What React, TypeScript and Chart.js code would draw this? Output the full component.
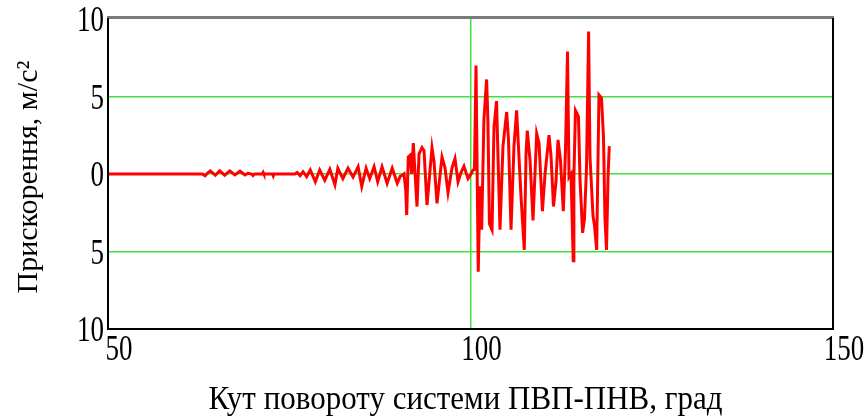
import React, { useEffect, useRef } from 'react';
import { Chart, registerables } from 'chart.js';

Chart.register(...registerables);

// Angle of rotation of the system (deg)
const ANGLE: number[] = [
  50, 63.0, 63.4, 63.7, 64.1, 64.8, 65.4, 66.1, 66.8, 67.5, 68.2, 68.9, 69.3, 69.8, 70.0, 70.2,
  71.3, 71.4, 71.5, 72.7, 72.8, 72.9, 75.8,
  76.1, 76.5, 76.9, 77.4, 77.9, 78.6, 79.2, 79.9, 80.6, 81.3, 81.7, 82.4, 83.1, 83.8, 84.5, 85.0,
  85.6, 86.1, 86.7, 87.2, 87.8, 88.5, 89.2, 89.9, 90.3, 90.7,
  90.83, 91.06, 91.2, 91.42, 91.66, 91.89, 92.11, 92.62, 92.9, 93.31, 93.59, 94.0, 94.69, 94.97,
  95.38, 96.07, 96.48, 96.9, 97.45, 97.86, 98.28, 98.69, 99.1, 99.66, 100.07, 100.34, 100.55,
  100.76, 101.07, 101.3, 101.54, 101.85, 102.22, 102.4, 102.61, 102.97, 103.24, 103.59, 103.79,
  104.07, 104.48, 104.99, 105.24, 105.59, 106.0, 106.36, 106.61, 106.97, 107.42, 107.66, 107.83,
  108.21, 108.62, 109.13, 109.45, 109.92, 110.28, 110.83, 111.1, 111.45, 111.79, 112.07, 112.41,
  112.8, 113.1, 113.38, 113.59, 113.86, 114.17, 114.26, 114.48, 114.89, 115.1, 115.46, 115.72,
  116.0, 116.29, 116.48, 116.9, 117.1, 117.4, 117.72, 118.07, 118.34, 118.55, 118.76, 118.97, 119.14,
];

// Acceleration (m/s^2)
const ACCEL: number[] = [
  0, 0, -0.12, 0.05, 0.2, -0.08, 0.2, -0.08, 0.2, -0.06, 0.18, -0.06, 0.05, 0, -0.1, 0,
  0, 0.1, 0, 0, -0.12, 0, 0,
  0.1, -0.1, 0.15, -0.17, 0.26, -0.5, 0.26, -0.4, 0.3, -0.7, 0.37, -0.3, 0.37, -0.2, 0.47, -0.8,
  0.37, -0.3, 0.47, -0.5, 0.47, -0.6, 0.37, -0.6, -0.15, -0.05,
  0, -1.0, -2.65, 1.1, 1.2, 0, 2.0, -2.1, 1.3, 1.7, 1.5, -2.0, 1.7, 0.8,
  -1.9, 1.1, 0.4, -1.2, 0.4, 1.0, -0.5, 0.1, 0.5, -0.3, 0, 0.25, 0.3,
  7.0, -6.3, -0.8, -3.6, 3.5, 6.1, 3.5, -3.2, -3.6, 3.0, 4.7, 1.2,
  -3.6, 1.8, 4.0, 2.2, -3.6, 1.8, 4.1, 1.8, -1.5, -4.9, 1.3, 2.8,
  0.9, -3.0, 2.6, 2.0, -2.4, 0, 2.5, 1.2, -2.1, -0.5, 2.2, 0.9,
  -2.4, 1.5, 7.9, -0.2, 0, -5.6, -0.2, 4.1, 3.7, -0.3, -3.8, -2.9,
  0.4, 9.2, 1.1, -2.7, -3.3, -4.9, 5.1, 4.9, 2.4, -2.9, -4.9, -0.2, 1.8,
];

const X_TICKS = [50, 100, 150];
const X_TICK_LABELS = ['50', '100', '150'];
const Y_TICKS = [10, 5, 0, -5, -10];
const Y_TICK_LABELS = ['10', '5', '0', '5', '10'];
const X_TITLE = 'Кут повороту системи ПВП-ПНВ, град';
const Y_TITLE = 'Прискорення, м/с²';

const SERIF = '"Liberation Serif", "Times New Roman", serif';
const GRID_GREEN = '#3fe03f';

function stretchedText(ctx: CanvasRenderingContext2D, text: string, x: number, y: number, sy: number) {
  ctx.save();
  ctx.translate(x, y);
  ctx.scale(1, sy);
  ctx.fillText(text, 0, 0);
  ctx.restore();
}

const framePlugin = {
  id: 'mathcadFrame',
  afterDraw(chart: any) {
    const { ctx, chartArea: a } = chart;
    const xs = chart.scales.x;
    const ys = chart.scales.y;
    ctx.save();
    ctx.strokeStyle = '#7a7a7a';
    ctx.lineWidth = 3;
    ctx.beginPath();
    ctx.moveTo(a.left - 1, a.top - 1.5);
    ctx.lineTo(a.right + 1, a.top - 1.5);
    ctx.stroke();
    ctx.strokeStyle = '#000';
    ctx.lineWidth = 2;
    ctx.beginPath();
    ctx.moveTo(a.left, a.top - 1);
    ctx.lineTo(a.left, a.bottom);
    ctx.lineTo(a.right, a.bottom);
    ctx.lineTo(a.right, a.top - 1);
    ctx.stroke();

    ctx.fillStyle = '#000';
    ctx.textBaseline = 'middle';

    // tick labels
    ctx.font = `27px ${SERIF}`;
    ctx.textAlign = 'right';
    Y_TICKS.forEach((v, i) => {
      stretchedText(ctx, Y_TICK_LABELS[i], a.left - 4, ys.getPixelForValue(v) + 3, 1.3);
    });
    ctx.textAlign = 'center';
    X_TICKS.forEach((v, i) => {
      stretchedText(ctx, X_TICK_LABELS[i], xs.getPixelForValue(v) + 11, a.bottom + 22, 1.3);
    });

    // axis titles
    ctx.font = `31px ${SERIF}`;
    stretchedText(ctx, X_TITLE, (a.left + a.right) / 2 - 5, 400, 1.12);
    ctx.font = `30px ${SERIF}`;
    ctx.translate(29, 177);
    ctx.rotate(-Math.PI / 2);
    ctx.fillText(Y_TITLE, 0, 0);
    ctx.restore();
  },
};

export default function App() {
  const ref = useRef<HTMLCanvasElement | null>(null);
  useEffect(() => {
    if (!ref.current) return;
    const chart = new Chart(ref.current, {
      type: 'line',
      data: {
        datasets: [
          {
            data: ANGLE.map((x, i) => ({ x, y: ACCEL[i] })),
            borderColor: '#ff0000',
            borderWidth: 3,
            pointRadius: 0,
            tension: 0,
            fill: false,
          },
        ],
      },
      options: {
        animation: false,
        responsive: false,
        layout: { padding: { left: 0, right: 31, top: 19, bottom: 0 } },
        plugins: { legend: { display: false }, tooltip: { enabled: false } },
        scales: {
          x: {
            type: 'linear',
            min: 50,
            max: 150,
            ticks: { stepSize: 50, display: false },
            grid: {
              drawTicks: false,
              lineWidth: 1.5,
              color: (c: any) => (c.tick && c.tick.value === 100 ? GRID_GREEN : 'rgba(0,0,0,0)'),
            },
            border: { display: false },
            afterFit: (s: any) => {
              s.height = 88;
            },
          },
          y: {
            type: 'linear',
            min: -10,
            max: 10,
            ticks: { stepSize: 5, display: false },
            grid: {
              drawTicks: false,
              lineWidth: 1.5,
              color: (c: any) =>
                c.tick && Math.abs(c.tick.value) < 10 ? GRID_GREEN : 'rgba(0,0,0,0)',
            },
            border: { display: false },
            afterFit: (s: any) => {
              s.width = 108;
            },
          },
        },
      },
      plugins: [framePlugin],
    } as any);
    return () => chart.destroy();
  }, []);

  return (
    <div style={{ position: 'absolute', left: 0, top: 0, width: 864, height: 417, background: '#fff' }}>
      <canvas ref={ref} width={864} height={417} style={{ display: 'block' }} />
    </div>
  );
}
